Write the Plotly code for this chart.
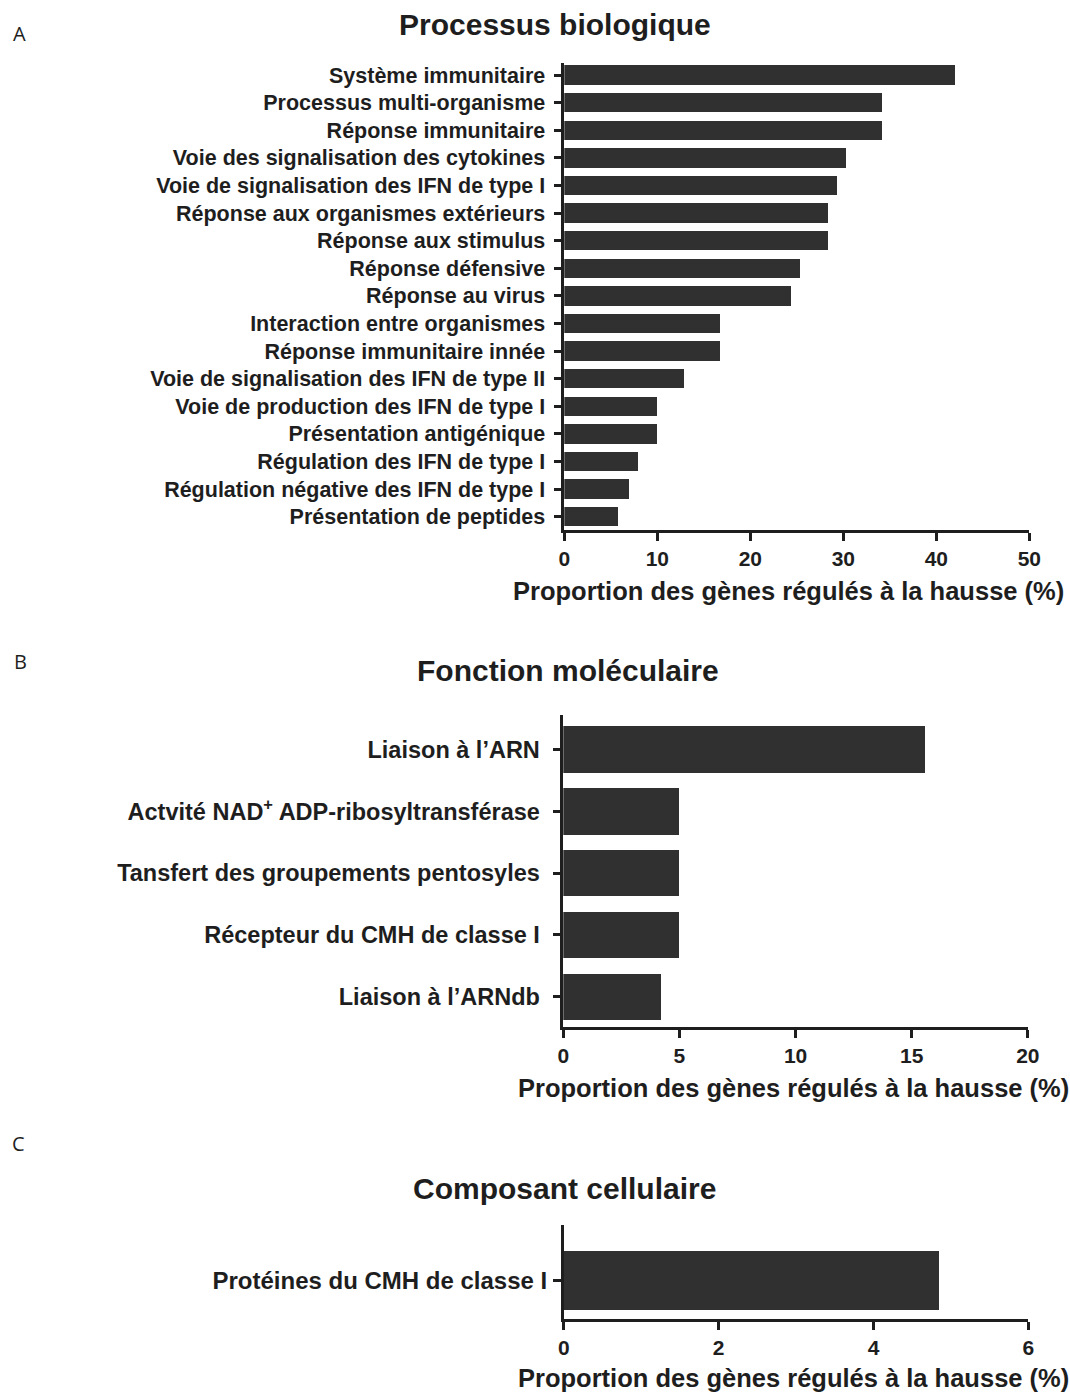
import plotly.graph_objects as go

# --- Data -------------------------------------------------------------
bio_terms = [
    "Système immunitaire",
    "Processus multi-organisme",
    "Réponse immunitaire",
    "Voie des signalisation des cytokines",
    "Voie de signalisation des IFN de type I",
    "Réponse aux organismes extérieurs",
    "Réponse aux stimulus",
    "Réponse défensive",
    "Réponse au virus",
    "Interaction entre organismes",
    "Réponse immunitaire innée",
    "Voie de signalisation des IFN de type II",
    "Voie de production des IFN de type I",
    "Présentation antigénique",
    "Régulation des IFN de type I",
    "Régulation négative des IFN de type I",
    "Présentation de peptides",
]
bio_values = [42.0, 34.2, 34.2, 30.3, 29.4, 28.4, 28.4, 25.4, 24.4,
              16.8, 16.8, 12.9, 10.0, 10.0, 8.0, 7.0, 5.8]
bio_ticks = [0, 10, 20, 30, 40, 50]

mol_terms = [
    "Liaison à l’ARN",
    "Actvité NAD<sup>+</sup> ADP-ribosyltransférase",
    "Tansfert des groupements pentosyles",
    "Récepteur du CMH de classe I",
    "Liaison à l’ARNdb",
]
mol_values = [15.6, 5.0, 5.0, 5.0, 4.2]
mol_ticks = [0, 5, 10, 15, 20]

cell_terms = ["Protéines du CMH de classe I"]
cell_values = [4.85]
cell_ticks = [0, 2, 4, 6]

panel_titles = ["Processus biologique", "Fonction moléculaire", "Composant cellulaire"]
panel_letters = ["A", "B", "C"]
x_title = "Proportion des gènes régulés à la hausse (%)"

# --- Styling ----------------------------------------------------------
W, H = 1070, 1393
FONT = "Liberation Sans, Arial, Helvetica, sans-serif"
INK = "#1e1e1e"
BAR = "#303030"

# page-pixel -> paper fraction helpers (horizontal span of the drawn page)
X0, XSPAN = 5.7, 1052.0


def px_x(p):
    return (p - X0) / XSPAN


def px_y(p):
    return 1 - p / H


fig = go.Figure()

panels = [
    dict(terms=bio_terms, values=bio_values, ticks=bio_ticks, width=0.7,
         xdom=[px_x(564), px_x(1029)], ydom=[px_y(530), px_y(63)],
         yrange=[16.48, -0.44], ysize=21.5, standoff=4),
    dict(terms=mol_terms, values=mol_values, ticks=mol_ticks, width=0.75,
         xdom=[px_x(563), px_x(1027.5)], ydom=[px_y(1027), px_y(715)],
         yrange=[4.49, -0.56], ysize=23.5, standoff=8),
    dict(terms=cell_terms, values=cell_values, ticks=cell_ticks, width=0.6,
         xdom=[px_x(563.5), px_x(1028)], ydom=[px_y(1319), px_y(1225)],
         yrange=[0.39, -0.56], ysize=24, standoff=1),
]

layout_axes = {}
for i, p in enumerate(panels, start=1):
    sfx = "" if i == 1 else str(i)
    fig.add_trace(go.Bar(
        x=p["values"], y=p["terms"], orientation="h",
        width=p["width"], marker=dict(color=BAR, line=dict(width=0)),
        xaxis="x" + sfx, yaxis="y" + sfx, showlegend=False,
        hovertemplate="%{y}: %{x}%<extra></extra>",
    ))
    layout_axes["xaxis" + sfx] = dict(
        domain=p["xdom"], anchor="y" + sfx,
        range=[p["ticks"][0], p["ticks"][-1]],
        tickmode="array", tickvals=p["ticks"],
        ticks="outside", ticklen=8, tickwidth=2.5, tickcolor=INK,
        showline=True, linewidth=2.5, linecolor=INK,
        showgrid=False, zeroline=False,
        tickfont=dict(family=FONT, size=21, color=INK, weight="bold"),
        fixedrange=True,
    )
    layout_axes["yaxis" + sfx] = dict(
        domain=p["ydom"], anchor="x" + sfx,
        type="category", categoryorder="array", categoryarray=p["terms"],
        range=p["yrange"],
        ticks="outside", ticklen=8, tickwidth=2.5, tickcolor=INK,
        ticklabelstandoff=p["standoff"],
        showline=True, linewidth=2.5, linecolor=INK,
        showgrid=False, zeroline=False,
        tickfont=dict(family=FONT, size=p["ysize"], color=INK, weight="bold"),
        fixedrange=True,
    )

annotations = []
# Panel titles
for text, cx, cy in zip(panel_titles, [555, 568, 564], [25, 670, 1188]):
    annotations.append(dict(
        text=text, x=px_x(cx), y=px_y(cy), xref="paper", yref="paper",
        xanchor="center", yanchor="middle", showarrow=False,
        font=dict(family=FONT, size=30, color=INK, weight="bold"),
    ))
# Axis titles
for cx, cy in zip([788, 793, 793], [591, 1088, 1378]):
    annotations.append(dict(
        text=x_title, x=px_x(cx), y=px_y(cy), xref="paper", yref="paper",
        xanchor="center", yanchor="middle", showarrow=False,
        font=dict(family=FONT, size=25.5, color=INK, weight="bold"),
    ))
# Panel letters
for letter, lx, ly in zip(panel_letters, [11, 12, 10], [33, 661, 1143]):
    annotations.append(dict(
        text=letter, x=px_x(lx), y=px_y(ly), xref="paper", yref="paper",
        xanchor="left", yanchor="middle", showarrow=False,
        font=dict(family="Open Sans, Carlito, sans-serif", size=20, color=INK),
    ))

fig.update_layout(
    width=W, height=H,
    margin=dict(l=0, r=0, t=0, b=0),
    paper_bgcolor="white", plot_bgcolor="white",
    annotations=annotations,
    bargap=0,
    **layout_axes,
)

fig.write_html("out.html")
